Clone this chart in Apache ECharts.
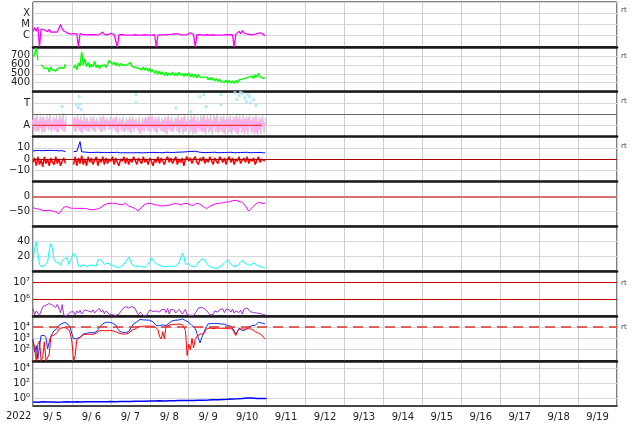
<!DOCTYPE html>
<html><head><meta charset="utf-8">
<script src="https://cdn.jsdelivr.net/npm/echarts@6/dist/echarts.min.js"></script>
<style>html,body{margin:0;padding:0;background:#fff}#c{width:634px;height:424px}</style>
</head><body><div id="c"></div>
<script>
// ---------- time base ----------
const startDate = '2022-09-05T00:00:00Z';
const dayCount = 15;
const yearLabel = '2022';
const rtLabel = 'rt';

// ---------- data (hourly from 9/5 00:00 unless noted) ----------
// X-ray flux, µW/m² (C=1, M=10, X=100)
const xrayFlux = [
 2.4,5.2,2.5,6.0,0.1,3.8,2.8,3.2,4.6,2.3,3.6,2.0,
 2.8,2.2,1.8,2.1,2.6,10.0,4.0,2.6,2.2,1.8,1.5,1.35,
 1.4,1.5,1.6,1.4,0.1,1.5,1.3,1.25,1.3,1.2,1.25,1.2,
 1.2,1.25,1.2,1.15,1.2,1.25,1.3,2.1,1.3,1.2,1.2,1.25,
 1.6,1.3,1.2,1.2,0.1,1.2,1.15,1.2,1.15,1.1,1.15,1.1,
 1.15,1.1,1.15,1.2,1.15,1.1,1.15,1.1,1.15,1.2,1.15,1.1,
 1.15,1.1,1.15,1.2,0.1,1.15,1.1,1.15,1.2,1.15,1.2,1.25,
 1.2,1.3,1.25,1.4,1.9,1.5,1.3,1.25,1.2,1.15,1.2,1.25,
 1.5,1.8,1.3,1.2,0.1,1.2,1.15,1.2,1.15,1.1,1.15,1.2,
 1.15,1.1,1.15,1.2,1.15,1.1,1.15,1.1,1.15,1.1,1.15,1.2,
 1.15,1.2,1.3,1.25,0.1,1.3,1.6,2.4,1.5,2.8,1.8,2.0,
 1.4,1.3,1.25,1.2,1.2,1.3,1.5,2.1,1.8,1.6,1.3,1.0];
const xrayLabels = {0:'C',1:'M',2:'X'};

// solar wind speed km/s
const windSpeed = [
 690,720,790,650,null,600,585,560,540,565,520,575,
 545,560,530,555,540,570,585,560,610,null,null,null,
 null,560,600,545,620,585,745,600,665,580,625,570,
 605,580,640,570,600,560,590,580,600,570,590,650,
 635,605,630,595,620,585,612,590,595,612,598,588,
 625,585,590,570,590,560,580,545,575,540,565,530,
 560,520,545,505,535,495,530,490,520,480,515,478,
 510,485,520,480,510,478,515,482,505,470,505,478,
 510,465,500,462,495,455,490,462,470,460,445,465,
 435,460,430,455,420,445,415,440,410,432,405,428,
 400,425,395,420,392,425,400,432,412,440,420,452,
 432,462,445,472,448,488,462,505,465,470,448,455];

// IMF sector panel (A=1, T=3)
const sectorLevels = {A:1, T:3};
const sectorSpans = [[0, 141, 'A']];
const awayPoints = [
 1.5,0.6,1.7,0.5,1.3,0.8,1.7,0.4,1.5,0.9,1.6,0.6,
 1.2,0.7,1.6,0.4,1.5,0.8,1.7,0.5,1.3,null,null,null,
 null,1.6,0.5,1.7,0.8,1.5,0.4,1.4,0.7,1.6,0.5,1.3,
 0.8,1.6,0.5,1.4,0.9,1.3,0.5,1.7,0.7,1.5,1.0,1.4,
 0.6,1.5,0.8,1.7,0.4,1.3,0.9,1.5,0.5,1.2,0.7,1.5,
 0.4,1.6,0.7,1.4,0.8,1.3,0.3,1.2,0.6,1.6,0.9,1.7,
 0.5,1.7,0.8,1.4,0.4,1.6,0.8,1.3,0.5,1.5,0.3,1.7,
 0.7,1.4,0.5,1.3,0.9,1.6,0.4,1.5,0.8,1.7,0.5,1.3,
 0.9,1.5,0.5,1.7,0.3,1.4,0.8,1.3,0.5,1.7,0.4,1.5,
 0.8,1.6,0.5,1.4,0.9,1.7,0.4,1.3,0.6,1.7,0.3,1.5,
 0.8,1.6,0.4,1.4,0.6,1.7,0.3,1.6,0.8,1.5,0.4,1.6,
 0.5,1.7,0.9,1.4,0.4,1.7,0.3,1.3,0.6,1.6,0.9,1.2];
const mixedPoints = [
 1.9,0.4,2.0,0.5,1.9,0.3,1.8,0.6,1.9,0.5,2.0,0.4,
 1.8,0.5,1.9,0.4,2.0,0.6,2.1,0.4,1.8,null,null,null,
 null,1.8,0.4,1.9,0.5,1.8,0.3,1.9,0.5,1.7,0.4,1.8,
 0.5,1.8,0.4,1.7,0.6,1.8,0.4,1.9,0.5,1.7,0.6,1.8,
 0.4,1.7,0.5,1.8,0.3,1.7,0.5,1.8,0.4,1.7,0.5,1.8,
 0.3,1.8,0.4,1.7,0.5,1.8,0.3,1.7,0.4,1.8,0.5,1.9,
 0.4,1.9,0.5,1.8,0.3,1.8,0.5,1.7,0.4,1.8,0.2,1.9,
 0.5,1.8,0.4,1.7,0.5,1.9,0.3,1.8,0.2,1.9,0.4,1.8,
 0.3,1.9,0.2,2.0,0.3,1.8,0.5,1.9,0.4,2.0,0.2,1.9,
 0.3,2.0,0.2,1.9,0.4,2.1,0.3,1.8,0.4,1.9,0.2,1.8,
 0.3,1.9,0.2,1.8,0.4,2.0,0.2,1.9,0.3,2.0,0.2,1.8,
 0.2,1.9,0.3,1.8,0.2,2.0,0.2,1.8,0.2,1.9,0.3,1.7];
// [hour, level]
const towardPoints = [
 [18,2.67],[26.7,2.84],[27.9,2.58],[28.5,3.56],[29.7,2.4],[28.9,2.9],[63.6,3.02],[63.6,3.73],
 [88.2,2.58],[97.4,2.22],[103,3.56],[105.4,3.73],[106.7,2.67],[115.9,3.73],[115.9,2.84],
 [124.5,3.91],[127,3.64],[129,3.82],[130.7,3.47],[132.5,3.73],[134.3,3.02],[136,3.29],[137.4,2.76],
 [125.6,3.3],[128,3.95],[131.5,3.1],[133.5,3.55]];

// IMF Bt and Bz, nT
const imfBt = [
 7.2,6.8,7.5,7.0,7.6,7.8,7.4,7.9,7.6,8.0,7.7,7.8,
 7.5,7.9,7.6,7.8,7.3,7.7,7.4,6.8,6.6,null,null,null,
 null,6.5,6.2,6.8,6.0,15.5,6.4,5.8,6.2,5.6,5.9,5.5,
 5.8,5.5,5.9,5.6,6.0,5.4,5.8,5.6,5.9,5.5,5.7,5.6,
 5.9,5.5,5.8,5.6,6.0,5.7,5.5,5.9,5.6,5.8,5.5,5.7,
 5.6,5.9,5.5,5.8,5.7,6.0,5.6,5.8,5.5,5.9,5.7,5.6,
 5.8,5.5,5.9,5.6,5.8,5.5,5.7,5.9,5.6,5.8,6.0,5.7,
 5.9,6.1,5.8,6.2,6.0,6.4,6.1,6.5,6.2,6.6,6.4,6.8,
 6.6,7.0,6.8,7.2,6.9,6.6,6.3,6.0,5.8,6.1,5.7,6.0,
 5.8,5.6,5.9,5.7,6.0,5.8,5.6,5.9,5.7,5.5,5.8,5.6,
 5.9,5.7,6.0,5.8,5.6,5.9,5.7,6.0,5.8,5.5,5.9,5.7,
 6.0,5.8,5.6,5.9,5.7,5.5,5.8,5.6,5.9,5.7,5.5,5.6];
const imfBz = [
 -3,1,-6,2,-5,-1,-7,2,-4,0,-6,1,
 -3,-5,2,-4,0,-6,-2,1,-4,null,null,null,
 null,-5,2,-6,1,-4,3,-5,0,-6,2,-3,
 1,-5,-1,2,-6,0,-3,2,-5,1,-4,0,
 -2,2,-5,1,-3,-6,0,-2,2,-4,1,-5,
 0,-3,2,-1,-5,1,-2,-4,2,-3,0,-5,
 1,-2,-6,0,-3,2,-4,1,-2,-5,0,2,
 -3,1,-4,-1,2,-5,0,-3,1,-6,0,2,
 -2,1,-4,0,2,-3,-5,1,-2,2,-4,0,
 -3,2,-1,-5,1,-2,-4,2,0,-3,1,-5,
 0,2,-3,1,-5,0,-2,2,-4,-1,1,-3,
 2,-4,0,-2,1,-5,-1,2,-3,0,1,-2];

// Dst, nT
const dst = [
 -38,-40,-41,-42,-43,-45,-47,-49,-48,-47,-46,-48,
 -49,-50,-52,-55,-58,-52,-43,-36,-30,-34,-38,-39,
 -40,-40,-39,-40,-41,-40,-39,-40,-40,-41,-43,-44,
 -45,-44,-44,-43,-43,-40,-36,-32,-29,-26,-24,-23,
 -22,-23,-24,-23,-25,-27,-28,-28,-25,-23,-27,-32,
 -34,-36,-38,-41,-45,-49,-42,-35,-31,-27,-24,-23,
 -23,-24,-26,-28,-28,-29,-31,-32,-32,-31,-30,-30,
 -30,-28,-26,-24,-23,-25,-27,-28,-26,-24,-23,-23,
 -23,-29,-35,-30,-26,-23,-23,-26,-30,-34,-38,-41,
 -37,-33,-30,-28,-26,-24,-23,-23,-22,-21,-20,-19,
 -18,-18,-16,-14,-12,-13,-15,-17,-19,-20,-26,-32,
 -42,-49,-44,-38,-32,-27,-23,-20,-21,-23,-24,-23];

// geomagnetic activity index (cyan)
const activity = [
 14,30,39,40,9,6,8,7,6,12,28,37,
 30,16,12,10,11,8,13,16,14,18,9,14,
 19,24,21,18,7,5,6,9,8,6,7,8,
 9,8,6,7,15,15,15,12,9,9,11,12,
 8,9,7,6,5,5,6,7,9,10,15,19,
 19,9,8,6,6,7,7,6,6,5,7,9,
 13,18,14,12,10,9,8,7,6,6,6,7,
 7,5,6,6,7,9,11,12,24,20,9,10,
 10,8,6,6,6,9,11,14,16,17,18,11,
 8,6,5,5,4,4,4,5,7,9,11,13,
 15,12,9,7,6,6,7,8,12,15,12,11,
 9,8,8,9,11,12,8,6,6,5,5,4];

// electron fluence (purple) and thresholds
const electronFlux = [
 2.8e5,1.2e5,2.0e5,1.5e5,1.1e5,2.0e5,3.5e5,4.0e5,4.4e5,4.6e5,5.5e5,5.0e5,
 4.4e5,3.8e5,3.2e5,5.0e5,4.4e5,1.5e5,4.8e5,1.1e5,1.2e5,1.1e5,1.3e5,1.7e5,
 2.0e5,1.8e5,1.2e5,2.0e5,1.5e5,2.2e5,1.3e5,1.7e5,2.3e5,1.8e5,2.0e5,2.5e5,
 1.7e5,2.3e5,1.5e5,2.0e5,2.3e5,2.8e5,1.7e5,2.3e5,1.4e5,2.0e5,2.5e5,1.3e5,
 1.5e5,1.2e5,1.4e5,1.1e5,1.1e5,1.3e5,1.7e5,2.5e5,3.2e5,3.6e5,3.4e5,3.0e5,
 3.3e5,3.6e5,3.4e5,2.8e5,1.6e5,1.2e5,1.7e5,1.3e5,1.1e5,1.2e5,1.1e5,1.2e5,
 2.3e5,2.0e5,1.8e5,2.3e5,2.0e5,2.5e5,1.7e5,2.3e5,2.0e5,2.5e5,1.6e5,2.8e5,
 1.3e5,2.5e5,2.0e5,2.3e5,1.5e5,1.8e5,2.5e5,2.2e5,1.3e5,1.1e5,2.5e5,1.2e5,
 1.1e5,1.1e5,1.2e5,1.1e5,1.1e5,2.0e5,3.0e5,3.5e5,3.3e5,3.6e5,2.6e5,2.0e5,
 1.6e5,1.2e5,1.1e5,1.2e5,2.0e5,2.2e5,1.7e5,2.4e5,2.0e5,2.7e5,1.6e5,2.5e5,
 2.0e5,2.3e5,1.7e5,2.6e5,1.5e5,2.0e5,2.5e5,1.6e5,2.2e5,1.3e5,2.5e5,3.2e5,
 3.0e5,2.7e5,1.8e5,1.5e5,1.6e5,1.8e5,1.5e5,1.6e5,1.4e5,1.3e5,1.2e5,1.2e5];
const electronThresholds = [1e6, 1e7];

// electron flux, two satellites (blue, red) and threshold
const fluxBlue = [
 900,60,230,15,200,1800,1500,1900,1200,120,500,1500,
 3000,5000,6000,8000,15000,20000,22000,25000,27000,22000,16000,9000,
 2500,900,700,1000,1300,1200,1800,2500,3000,2800,3500,3300,
 3600,3200,3500,3800,6000,10000,15000,20000,27000,28000,26000,27000,
 25000,23000,22000,16000,8000,5000,4000,3500,3600,3400,3500,4000,
 6000,12000,20000,25000,30000,40000,50000,48000,45000,42000,44000,40000,
 42000,38000,30000,20000,14000,10000,14000,20000,16000,13000,14000,18000,
 25000,32000,38000,40000,42000,40000,45000,52000,56000,50000,40000,32000,
 28000,20000,14000,10000,8000,3000,1000,400,1200,2500,6000,12000,
 20000,22000,21000,23000,22000,21000,22000,20000,19000,20000,19000,16000,
 14000,13000,12500,9000,5000,2500,4000,8000,6000,5000,5500,6000,
 8000,10000,12000,14000,13000,15000,20000,28000,26000,24000,22000,20000];
const fluxRed = [
 630,150,10,300,600,10,20,500,10,10,40,1500,
 1800,2000,2500,3500,7000,8000,9000,10000,9000,7000,6000,3000,
 500,10,30,800,1000,1260,1800,2200,2500,2300,2600,2400,
 2500,2300,2600,3000,4000,5000,5500,5000,5200,4800,5000,5200,
 5000,4800,4500,4000,3500,3000,2800,2500,2600,2400,2500,3000,
 4000,5500,6500,7000,9000,11000,12500,12000,13000,12500,12000,12500,
 13000,12000,11000,12000,10000,6000,1500,900,4000,900,12000,14000,
 15000,16000,18000,20000,18000,17000,19000,20000,18000,15000,5000,30,
 300,100,1000,150,800,1500,2000,2500,1800,2500,4000,7000,
 8000,8500,8000,7500,8000,8200,7800,8000,7500,8000,7800,8000,
 7500,8000,7000,6500,5000,1800,4000,7000,7500,7000,7200,6800,
 7000,7500,7200,6500,5000,4000,3500,3000,2500,2000,1500,900];
const fluxThreshold = 1e4;

// bottom panel (3-hourly)
const bottomStepHours = 3;
const bottomFlux = [
 0.32,0.30,0.33,0.31,0.32,0.30,0.31,0.33,0.32,0.34,0.32,0.33,
 0.34,0.33,0.35,0.34,0.36,0.35,0.37,0.36,0.38,0.40,0.39,0.41,
 0.43,0.42,0.45,0.44,0.47,0.46,0.49,0.50,0.52,0.51,0.54,0.56,
 0.58,0.62,0.65,0.70,0.74,0.80,0.85,0.95,1.1,1.05,0.95,0.90,0.92];

// ---------- build ----------
const T0 = Date.parse(startDate);
const HOUR = 3600e3, DAY = 24 * HOUR;
const TMAX = T0 + dayCount * DAY;
const series1h = (vals, step = 1, start = 0) => vals.map((v, i) => [T0 + (start + i * step) * HOUR, v]);

const FONT = 'DejaVu Sans';
const L = 33, R = 17, TOP = 2, PH = 44.86, N = 9;
const SUP = {'-':'\u207b','0':'\u2070','1':'\u00b9','2':'\u00b2','3':'\u00b3','4':'\u2074','5':'\u2075','6':'\u2076','7':'\u2077','8':'\u2078','9':'\u2079'};
const pow10 = e => '10' + String(e).split('').map(c => SUP[c]).join('');
const logFmt = shown => v => { const e = Math.round(Math.log10(v)); return shown.includes(e) ? pow10(e) : ''; };
const valFmt = shown => v => shown.includes(v) ? (v < 0 ? '\u2212' + (-v) : String(v)) : '';

const grids = [], xAxes = [], yAxes = [];
for (let i = 0; i < N; i++) {
  grids.push({left: L, right: R, top: TOP + i * PH, height: PH, show: true, borderColor: '#000', borderWidth: 1, containLabel: false, outerBoundsMode: 'none'});
  const last = i === N - 1;
  xAxes.push({
    type: 'value', gridIndex: i, min: T0, max: TMAX, interval: DAY,
    axisLine: {show: true, onZero: false, lineStyle: {color: '#1a1a1a', width: last ? 1.5 : 2.5}},
    axisTick: {show: false},
    splitLine: {show: true, lineStyle: {color: '#cfcfcf', width: 1}},
    axisLabel: last ? {
      show: true, fontFamily: FONT, fontSize: 10, color: '#222', margin: 7,
      padding: [0, 0, 0, 39], showMaxLabel: false,
      formatter: v => { if (v >= TMAX) return ''; const d = new Date(v); const day = d.getUTCDate(); return (d.getUTCMonth() + 1) + '/' + (day < 10 ? ' ' + day : day); }
    } : {show: false}
  });
}
const yBase = (i, extra) => Object.assign({
  gridIndex: i, axisLine: {show: false}, axisTick: {show: false},
  splitLine: {show: true, lineStyle: {color: '#d8d8d8', width: 1}},
}, extra);
const lab = (fmt) => ({fontFamily: FONT, fontSize: 10, color: '#222', margin: 3, showMinLabel: true, showMaxLabel: true, formatter: fmt});

yAxes.push(yBase(0, {type: 'log', logBase: 10, min: 0.1, max: 1000, axisLabel: lab(v => { const e = Math.round(Math.log10(v)); return xrayLabels[e] || ''; })}));
yAxes.push(yBase(1, {type: 'value', min: 300, max: 800, interval: 100, axisLabel: lab(valFmt([400, 500, 600, 700]))}));
yAxes.push(yBase(2, {type: 'value', min: 0, max: 4, interval: 1, axisLabel: lab(v => v === sectorLevels.A ? 'A' : v === sectorLevels.T ? 'T' : '')}));
yAxes.push(yBase(3, {type: 'value', min: -20, max: 20, interval: 10, axisLabel: lab(valFmt([-10, 0, 10]))}));
yAxes.push(yBase(4, {type: 'value', min: -100, max: 50, interval: 50, axisLabel: lab(valFmt([-50, 0]))}));
yAxes.push(yBase(5, {type: 'value', min: 0, max: 60, interval: 20, axisLabel: lab(valFmt([20, 40]))}));
yAxes.push(yBase(6, {type: 'log', logBase: 10, min: 1e5, max: Math.pow(10, 7.66), axisLabel: lab(logFmt([6, 7])), splitLine: {show: false}}));
yAxes.push(yBase(7, {type: 'log', logBase: 10, min: 10, max: 1e5, axisLabel: lab(logFmt([2, 3, 4]))}));
yAxes.push(yBase(8, {type: 'log', logBase: 100, min: 0.1, max: 1e5, axisLabel: lab(logFmt([0, 2, 4]))}));

const line = (i, data, color, extra) => Object.assign({
  type: 'line', xAxisIndex: i, yAxisIndex: i, data, showSymbol: false, symbol: 'none',
  lineStyle: {color, width: 1}, itemStyle: {color}, connectNulls: false, animation: false, silent: true, clip: true
}, extra || {});
const hline = (vals, color, width, type) => ({
  symbol: 'none', silent: true, animation: false, label: {show: false},
  lineStyle: {color, width, type: type || 'solid'},
  data: vals.map(v => ({yAxis: v}))
});

const sectorData = [];
sectorSpans.forEach(([a, b, s]) => { sectorData.push([T0 + a * HOUR, sectorLevels[s]], [T0 + b * HOUR, sectorLevels[s]]); });

const series = [
  line(0, series1h(xrayFlux), '#ff00ff', {lineStyle: {color: '#ff00ff', width: 1.3}}),
  line(1, series1h(windSpeed), '#00ff00', {lineStyle: {color: '#00ff00', width: 1.4}}),
  line(2, series1h(mixedPoints, 1, 0.5), '#c8c8c8', {lineStyle: {color: '#d2d2d2', width: 1.4}}),
  line(2, series1h(awayPoints), '#ffb6f2', {lineStyle: {color: '#ffb0f0', width: 2.6}, markLine: hline([2], '#666', 1)}),
  line(2, sectorData, '#ee3a3a', {lineStyle: {color: '#ee3a3a', width: 1.2}}),
  {type: 'scatter', xAxisIndex: 2, yAxisIndex: 2, data: towardPoints.map(([h, v]) => [T0 + h * HOUR, v]), symbol: 'rect', symbolSize: 3, itemStyle: {color: '#a8e2f8'}, animation: false, silent: true},
  line(3, series1h(imfBt), '#0000ff'),
  line(3, series1h(imfBz), '#ff0000', {lineStyle: {color: '#ff0000', width: 1.5}, markLine: hline([0], '#aa0000', 1)}),
  line(4, series1h(dst), '#ff00ff', {markLine: hline([0], '#d77070', 2)}),
  line(5, series1h(activity), '#00ffff'),
  line(6, series1h(electronFlux), '#a030d0', {markLine: hline(electronThresholds, '#cc0000', 1)}),
  line(7, series1h(fluxBlue), '#1030ff'),
  line(7, series1h(fluxRed), '#ff0000', {markLine: hline([fluxThreshold], '#dd3333', 1.5, [10, 6])}),
  line(8, series1h(bottomFlux, bottomStepHours), '#0000ff', {lineStyle: {color: '#0000ff', width: 1.5}})
];

const rtPanels = [0, 1, 2, 3, 6, 7];
const rtY = [10, 56, 101, 146, 283, 327];
const graphic = [
  {type: 'text', left: 6, top: 411, style: {text: yearLabel, font: '10px "DejaVu Sans"', fill: '#222'}, silent: true}
].concat(rtPanels.map((p, k) => ({type: 'text', x: 621, y: rtY[k], style: {text: rtLabel, font: '7px "DejaVu Sans"', fill: '#444', verticalAlign: 'middle'}, silent: true})));

const chart = echarts.init(document.getElementById('c'), null, {renderer: 'canvas'});
chart.setOption({animation: false, backgroundColor: '#fff', grid: grids, xAxis: xAxes, yAxis: yAxes, series, graphic});
</script></body></html>
